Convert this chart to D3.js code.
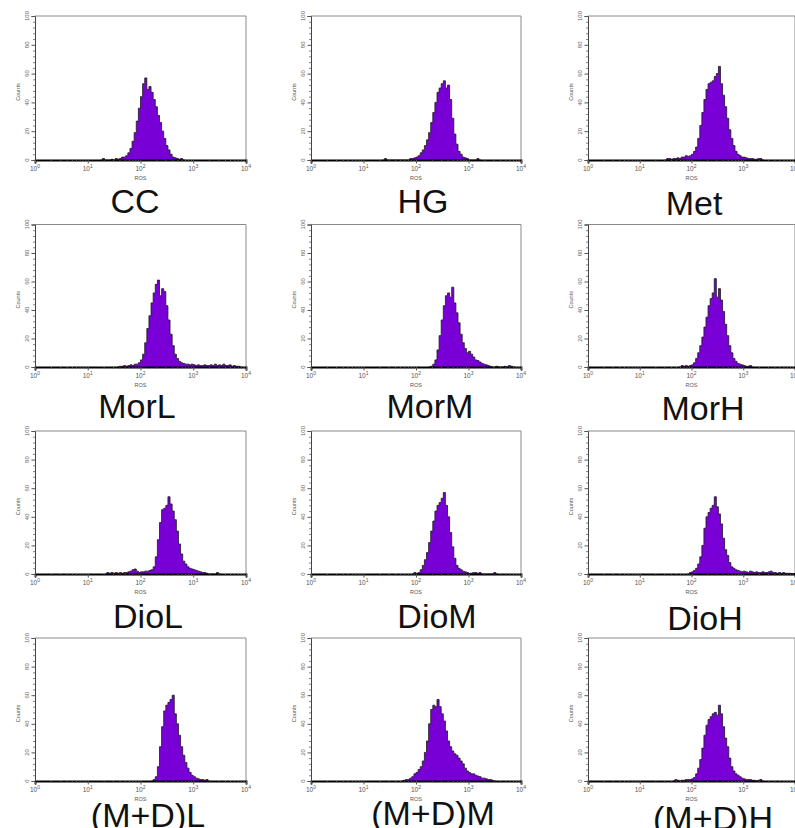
<!DOCTYPE html>
<html><head><meta charset="utf-8">
<script src="https://cdn.jsdelivr.net/npm/d3@7"></script>
<style>
html,body{margin:0;padding:0;background:#fff;}
svg{display:block;}
</style></head>
<body>
<script>
// ---------- DATA ----------
const panelNames = ["CC","HG","Met","MorL","MorM","MorH","DioL","DioM","DioH","(M+D)L","(M+D)M","(M+D)H"];
const xTickExponents = [0,1,2,3,4];
const yTickValues = [0,20,40,60,80,100];
const xAxisTitle = "ROS";
const yAxisTitle = "Counts";
const binWidthLog = 0.04;               // histogram bin width in log10 units
const binStartsLog = [1.24,1.36,1.48,1.56,2.24,1.76,1.32,1.92,1.92,2.20,1.72,1.64];

const countsCC   = [0,1,0,0,0,0.5,0,1,0.5,1,2,2,3,5,8,13,19,27,36,44,53,57,49,51,47,42,37,31,26,20,15,10,7,4,2,1.5,1,0.5,1,0];
const countsHG   = [0,1,0,0,0,0,0,0,0,0,0,0,0,1,1,1.5,2,3,5,7,10,14,19,26,33,40,47,50,53,55,50,52,42,29,18,11,6,4,2,1.5,1,0,0,0,0,1,0];
const countsMet  = [0,1,1,0.5,1,1,1.5,1,2,2,3,2.5,3,4,6,9,15,24,33,42,49,53,54,55,58,60,65,53,45,37,29,21,15,10,6,4,3,2,2,1.5,1,1,1,0.5,0.5,1,1,0];
const countsMorL = [0,0.5,0.5,1,0.5,1,1.5,1,2,2,3,5,9,17,27,36,45,52,58,61,50,55,53,43,33,23,15,9,6,4,3,2.5,2,2,1.5,2,1.5,1,1.5,1,1,1.5,1,1,1.5,1,2,1,1.5,1,2,1,1,1.5,0.5,1,0.5,0.5,0];
const countsMorM = [0,0.5,2,5,12,22,33,43,50,52,49,56,45,38,31,23,17,13,10,11,9,7,5,4.5,3.5,2.5,2,1.5,1,0.5,0,0,0.5,0,0,0,0.5,0,1,0.5,0];
const countsMorH = [0,1,0.5,1,0.5,1,1.5,3,6,10,15,21,28,35,43,48,52,62,49,55,47,39,30,22,15,10,6,4,2.5,2,1.5,1,0.5,0.5,1,0];
const countsDioL = [0,1,0.5,1,0.5,1,0.5,1,0.5,1,1,1.5,2,3,3.5,2,1,1.5,1.5,2,2,2.5,3,5,12,24,36,45,46,48,54,49,44,38,30,21,14,9,7,5,4,3.5,3,2.5,2,1.5,1,1,0.5,0,0,0,0,1,0];
const countsDioM = [0,1,0.5,1,3,6,10,15,22,30,37,44,48,50,53,57,48,40,29,19,11,6,4,3,2,1.5,1,0.5,0.5,1,1,0.5,1,0,0,0,0,0,0,1,0];
const countsDioH = [0,1,1.5,2.5,4,7,12,20,32,40,43,46,48,54,47,42,35,25,17,13,8,5,4,3,2.5,2,1.5,2,1.5,1,2,1.5,1,1.5,1,1,1.5,1,1,1.5,2,1,1,0.5,1,0.5,1,0.5,0.5,0.5,0.3,0.3,0];
const countsMDL  = [0,1,3,10,24,38,49,53,55,57,60,47,40,32,24,18,13,9,6,4,3,2,1.5,1,1,0.5,1,0];
const countsMDM  = [0,0.5,1,1,2,3,5,6,8,10,14,20,28,40,50,53,52,57,52,47,42,35,28,24,21,19,18,16,14,12,9,7,6,5,5,4,3.5,3,2,2,1.5,1,1,0.5,0];
const countsMDH  = [0,1,0.5,0,0.5,0.5,1,1,1,1.5,2.5,5,9,15,23,32,39,43,45,47,48,46,53,47,38,30,24,16,10,7,5,4,3,2,1.5,1,1,1,0.5,0.5,0,0.5,1,0];
const allCounts = [countsCC,countsHG,countsMet,countsMorL,countsMorM,countsMorH,countsDioL,countsDioM,countsDioH,countsMDL,countsMDM,countsMDH];

// ---------- LAYOUT ----------
const colLeft  = [35, 311, 588];
const colRight = [246, 521, 795];
const rowTop    = [16, 224.5, 431, 638];
const rowBottom = [160, 367, 574, 781];
const labelPos = [ // [centerX, baselineY]
  [135,213],[423,213],[694,215],
  [137,418],[430,418],[703,420],
  [148,628],[437,628],[705,630],
  [148,827],[433,825],[713,830]
];
const fillColor = "#7800d6";
const smallFont = "'Liberation Sans', Arial, sans-serif";

const svg = d3.select("body").append("svg").attr("width",795).attr("height",828);
svg.append("rect").attr("width",795).attr("height",828).attr("fill","#fff");

panelNames.forEach((name,k)=>{
  const r = Math.floor(k/3), c = k%3;
  const L = colLeft[c], R = colRight[c], T = rowTop[r], B = rowBottom[r];
  const x = d3.scaleLog().domain([1,1e4]).range([L,R]);
  const y = d3.scaleLinear().domain([0,100]).range([B,T]);
  const g = svg.append("g");

  // frame (top & right)
  g.append("path").attr("d",`M${L},${T}H${R}V${B}`).attr("fill","none").attr("stroke","#8a8a8a").attr("stroke-width",1);

  // histogram
  const counts = allCounts[k];
  const st = binStartsLog[k];
  const pts = counts.map((v,i)=>({lx: st + i*binWidthLog, v}));
  pts.push({lx: st + counts.length*binWidthLog, v:0});
  const area = d3.area().x(d=>x(Math.pow(10,d.lx))).y0(y(0)).y1(d=>y(d.v)).curve(d3.curveStepAfter);
  const line = d3.line().x(d=>x(Math.pow(10,d.lx))).y(d=>y(d.v)).curve(d3.curveStepAfter);
  g.append("path").datum(pts).attr("d",area).attr("fill",fillColor);
  g.append("path").datum(pts).attr("d",line).attr("fill","none").attr("stroke","#1a1a1a").attr("stroke-width",0.8);

  // x axis
  const majors = xTickExponents.map(e=>Math.pow(10,e));
  const minors = [];
  for(let e=0;e<4;e++) for(let m=2;m<10;m++) minors.push(m*Math.pow(10,e));
  const xa = g.append("g").attr("transform",`translate(0,${B})`)
    .call(d3.axisBottom(x).tickValues(majors).tickSize(3.5).tickFormat(""));
  xa.select(".domain").attr("stroke","#000").attr("stroke-width",1.8);
  xa.selectAll(".tick line").attr("stroke","#555");
  const xm = g.append("g").attr("transform",`translate(0,${B})`)
    .call(d3.axisBottom(x).tickValues(minors).tickSize(2).tickFormat(""));
  xm.select(".domain").remove();
  xm.selectAll(".tick line").attr("stroke","#666").attr("stroke-width",0.8);
  xTickExponents.forEach(e=>{
    const t = g.append("text").attr("x",x(Math.pow(10,e))).attr("y",B+11)
      .attr("text-anchor","middle").attr("font-family",smallFont).attr("font-size",6.5).attr("fill","#555");
    t.append("tspan").text("10");
    t.append("tspan").attr("dy",-3).attr("font-size",5).text(String(e));
  });
  g.append("text").attr("x",x(100)).attr("y",B+20).attr("text-anchor","middle")
    .attr("font-family",smallFont).attr("font-size",5.5).attr("fill","#555").text(xAxisTitle);

  // y axis
  const ya = g.append("g").attr("transform",`translate(${L},0)`)
    .call(d3.axisLeft(y).tickValues(yTickValues).tickSize(3.5).tickFormat(""));
  ya.select(".domain").attr("stroke","#444").attr("stroke-width",1);
  ya.selectAll(".tick line").attr("stroke","#555");
  const yMinors = d3.range(0,101,4).filter(v=>v%20!==0);
  const ym = g.append("g").attr("transform",`translate(${L},0)`)
    .call(d3.axisLeft(y).tickValues(yMinors).tickSize(2).tickFormat(""));
  ym.select(".domain").remove();
  ym.selectAll(".tick line").attr("stroke","#666").attr("stroke-width",0.8);
  yTickValues.forEach(v=>{
    g.append("text").attr("transform",`translate(${L-6.5},${y(v)}) rotate(-90)`)
      .attr("text-anchor","middle").attr("font-family",smallFont).attr("font-size",6).attr("fill","#666").text(v);
  });
  g.append("text").attr("transform",`translate(${L-15},${(T+B)/2+4}) rotate(-90)`)
    .attr("text-anchor","middle").attr("font-family",smallFont).attr("font-size",5.5).attr("fill","#555").text(yAxisTitle);

  // panel label
  svg.append("text").attr("x",labelPos[k][0]).attr("y",labelPos[k][1]).attr("text-anchor","middle")
    .attr("font-family","'Liberation Sans', Arial, sans-serif").attr("font-size",34).attr("fill","#111").text(name);
});
</script>
</body></html>
